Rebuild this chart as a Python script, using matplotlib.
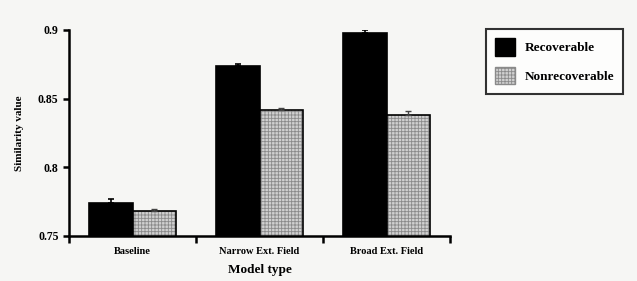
import matplotlib
import matplotlib.pyplot as plt
import numpy as np
from matplotlib.patches import Patch

matplotlib.use("Agg")

# data
models = ["Baseline", "Narrow Ext. Field", "Broad Ext. Field"]
recoverable = [0.774, 0.874, 0.898]
recoverable_err = [0.003, 0.001, 0.002]
nonrecoverable = [0.768, 0.842, 0.838]
nonrecoverable_err = [0.002, 0.001, 0.003]
yticks = [0.75, 0.8, 0.85, 0.9]
ytick_labels = ["0.75", "0.8", "0.85", "0.9"]

plt.rcParams["font.family"] = "Liberation Serif"
plt.rcParams["font.weight"] = "bold"
plt.rcParams["hatch.linewidth"] = 0.6

bg = "#f6f6f4"
fig = plt.figure(figsize=(6.37, 2.81), dpi=100, facecolor=bg)
ax = fig.add_axes([69 / 637, 1 - 236 / 281, (450 - 69) / 637, (236 - 30) / 281])
ax.set_facecolor(bg)

x = np.arange(len(models))
w = 0.34

ax.bar(x - w / 2, recoverable, w, color="black", edgecolor="black",
       linewidth=1.2, zorder=2)
ax.errorbar(x - w / 2, recoverable, yerr=[[0] * 3, recoverable_err], fmt="none",
            ecolor="black", elinewidth=1.2, capsize=2, capthick=1.2, zorder=3)

ax.bar(x + w / 2, nonrecoverable, w, color="#d0d0d0", edgecolor="#8a8a8a",
       hatch="+++++", linewidth=0, zorder=2)
ax.bar(x + w / 2, nonrecoverable, w, fill=False, edgecolor="black",
       linewidth=1.2, zorder=2)
ax.errorbar(x + w / 2, nonrecoverable, yerr=[[0] * 3, nonrecoverable_err], fmt="none",
            ecolor="#444444", elinewidth=1.0, capsize=2, capthick=1.0, zorder=3)

ax.set_xlim(-0.5, 2.5)
ax.set_ylim(0.75, 0.9)
ax.set_yticks(yticks)
ax.set_yticklabels(ytick_labels, fontsize=8.5, fontweight="bold")
ax.set_xticks([-0.5, 0.5, 1.5, 2.5])
ax.set_xticklabels([])
ax.set_xticks(x, minor=True)
ax.set_xticklabels(models, minor=True, fontsize=7.5, fontweight="bold")
ax.tick_params(axis="x", which="minor", length=0, pad=8)
ax.tick_params(axis="x", which="major", direction="out", length=5, width=1.8)
ax.tick_params(axis="y", direction="out", length=4, width=1.8)

for s in ["top", "right"]:
    ax.spines[s].set_visible(False)
for s in ["left", "bottom"]:
    ax.spines[s].set_linewidth(1.8)

ax.set_xlabel("Model type", fontsize=9.5, fontweight="bold", labelpad=6)
ax.set_ylabel("Similarity value", fontsize=8, fontweight="bold", labelpad=10)

handles = [Patch(facecolor="black", edgecolor="black"),
           Patch(facecolor="#d0d0d0", edgecolor="#8a8a8a", hatch="+++++")]
leg = fig.legend(handles, ["Recoverable", "Nonrecoverable"], loc="upper left",
                 bbox_to_anchor=(486 / 637, 1 - 29 / 281), borderaxespad=0,
                 frameon=True, fancybox=False, edgecolor="black",
                 facecolor="white", fontsize=9.5, handlelength=1.5,
                 handleheight=1.7, borderpad=0.7, labelspacing=0.8,
                 handletextpad=0.7)
leg.get_frame().set_linewidth(1.5)
for t in leg.get_texts():
    t.set_fontweight("bold")

fig.savefig("out.png", dpi=100, facecolor=bg)
